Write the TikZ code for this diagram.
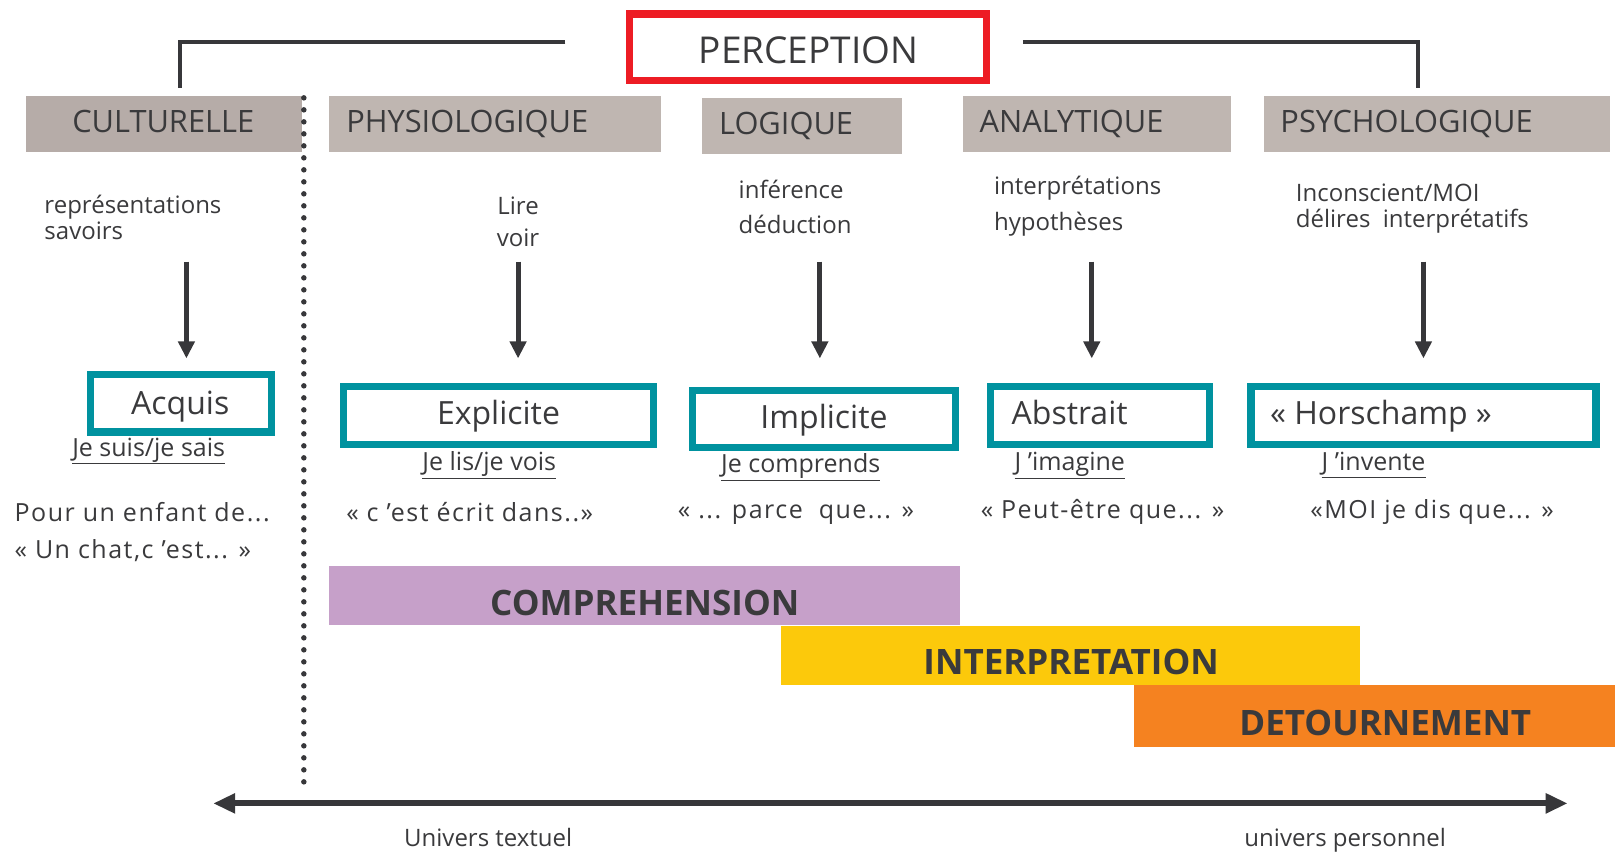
\documentclass[tikz,border=0pt]{standalone}
\usepackage{fontspec}
\setmainfont{Open Sans}
\usetikzlibrary{arrows.meta,fit}
\definecolor{txt}{RGB}{58,58,60}
\definecolor{linec}{RGB}{55,55,58}
\definecolor{redc}{RGB}{237,28,36}
\definecolor{tealc}{RGB}{0,146,159}
\definecolor{grayc}{RGB}{191,182,177}
\definecolor{grayd}{RGB}{182,172,168}
\definecolor{lavc}{RGB}{198,160,201}
\definecolor{yelc}{RGB}{252,201,11}
\definecolor{orac}{RGB}{245,130,32}
\tikzset{
  redbox/.style={draw=redc,line width=7.2pt,inner sep=0pt},
  tealbox/.style={draw=tealc,line width=7.2pt,inner sep=0pt},
  graybox/.style={fill=grayc,inner sep=0pt},
  bar/.style={inner sep=0pt},
  bracket/.style={draw=linec,line width=3.8pt},
  downarrow/.style={draw=linec,line width=5pt,-{Triangle[width=16pt,length=17pt]}},
  axis/.style={draw=linec,line width=6pt,{Triangle[width=19pt,length=22pt]}-{Triangle[width=19pt,length=22pt]}},
  sep/.style={draw=linec,line width=5.5pt,line cap=round,dash pattern=on 0pt off 12pt},
  glabel/.style={font=\fontsize{30.8pt}{36pt}\selectfont,anchor=base west},
  tlabel/.style={font=\fontsize{32pt}{38pt}\selectfont,anchor=base},
  desc/.style={font=\fontsize{24pt}{28pt}\selectfont,anchor=base west},
  uline/.style={font=\fontsize{25pt}{28pt}\selectfont,anchor=base west},
  quote/.style={font=\fontsize{25pt}{29pt}\selectfont\addfontfeatures{LetterSpace=6}},
  barlabel/.style={font=\fontsize{35pt}{40pt}\selectfont\bfseries,anchor=base},
  axlabel/.style={font=\fontsize{24pt}{28pt}\selectfont,anchor=base},
}
\begin{document}
\begin{tikzpicture}[x=1.03pt,y=-1.03pt,every node/.style={text=txt,inner sep=0pt}]
\useasboundingbox (0,0) rectangle (1568,828);
% top
\node[redbox,fit={(611.5,13.5)(957.5,78.5)}] (perc) {};
\node[font=\fontsize{37pt}{44pt}\selectfont,anchor=base] (perct) at (785,62) {PERCEPTION};
\coordinate (bl1) at (549,41);
\coordinate (bl2) at (175,41);
\coordinate (bl3) at (175,85);
\coordinate (br1) at (993,41);
\coordinate (br2) at (1377,41);
\coordinate (br3) at (1377,85);
\draw[bracket] (bl1) -- (bl2) -- (bl3);
\draw[bracket] (br1) -- (br2) -- (br3);
% gray boxes
\node[graybox,fill=grayd,fit={(25,93)(293,148)}] (cult) {};
\node[graybox,fit={(319,93)(642,148)}] (phys) {};
\node[graybox,fit={(682,95)(876,150)}] (logi) {};
\node[graybox,fit={(935,93)(1195,148)}] (anal) {};
\node[graybox,fit={(1227,93)(1563,148)}] (psyc) {};
\node[glabel] (cultt) at (70,129) {CULTURELLE};
\node[glabel] (physt) at (336,129) {PHYSIOLOGIQUE};
\node[glabel] (logit) at (698,131) {LOGIQUE};
\node[glabel] (analt) at (951,129) {ANALYTIQUE};
\node[glabel] (psyct) at (1243,129) {PSYCHOLOGIQUE};
% separator
\coordinate (s1) at (295,95);
\coordinate (s2) at (295,768);
\draw[sep] (s1) -- (s2);
% descriptions
\node[desc] (d1a) at (43,207) {représentations};
\node[desc] (d1b) at (43,233) {savoirs};
\node[desc,anchor=base] (d2a) at (503,208) {Lire};
\node[desc,anchor=base] (d2b) at (503,239) {voir};
\node[desc] (d3a) at (717,193) {inférence};
\node[desc] (d3b) at (717,227) {déduction};
\node[desc] (d4a) at (965,189) {interprétations};
\node[desc] (d4b) at (965,224) {hypothèses};
\node[desc] (d5a) at (1258,196) {Inconscient/MOI};
\node[desc] (d5b) at (1258,221) {délires\ \ interprétatifs};
% arrows
\foreach \i/\x in {1/181,2/503,3/796,4/1060,5/1382}{
  \coordinate (a\i s) at (\x,254);
  \coordinate (a\i e) at (\x,348);
  \draw[downarrow] (a\i s) -- (a\i e);
}
% teal boxes
\node[tealbox,fit={(87.5,363.5)(263.5,419.5)}] (acq) {};
\node[tealbox,fit={(333.5,375.5)(634.5,431.5)}] (exp) {};
\node[tealbox,fit={(672.5,379.5)(927.5,434.5)}] (imp) {};
\node[tealbox,fit={(961.5,375.5)(1174.5,431.5)}] (abs) {};
\node[tealbox,fit={(1214.5,375.5)(1549.5,431.5)}] (hor) {};
\node[tlabel] (acqt) at (175,402) {Acquis};
\node[tlabel] (expt) at (484,412) {Explicite};
\node[tlabel] (impt) at (800,416) {Implicite};
\node[tlabel,anchor=base west] (abst) at (982,412) {Abstrait};
\node[tlabel,anchor=base west] (hort) at (1233,412) {« Horschamp »};
% underlined
\node[uline] (u1) at (70,443) {\underline{Je suis/je sais}};
\node[uline] (u2) at (410,457) {\underline{Je lis/je vois}};
\node[uline] (u3) at (700,459) {\underline{Je comprends}};
\node[uline] (u4) at (985,457) {\underline{J ’imagine}};
\node[uline] (u5) at (1283,457) {\underline{J ’invente}};
% quotes
\node[quote,anchor=base west] (q1a) at (14,506) {Pour un enfant de...};
\node[quote,anchor=base west] (q1b) at (14,542) {« Un chat,c ’est... »};
\node[quote,anchor=base west] (q2) at (336,506) {« c ’est écrit dans..»};
\node[quote,anchor=base west] (q3) at (658,503) {« ... parce\ \ que... »};
\node[quote,anchor=base west] (q4) at (952,503) {« Peut-être que... »};
\node[quote,anchor=base west] (q5) at (1272,503) {«MOI je dis que... »};
% bars
\node[bar,fill=lavc,fit={(319,550)(932,607)}] (comp) {};
\node[bar,fill=yelc,fit={(758,608)(1320,665)}] (inte) {};
\node[bar,fill=orac,fit={(1101,665)(1568,725)}] (deto) {};
\node[barlabel] (compt) at (626,598) {COMPREHENSION};
\node[barlabel] (intet) at (1040,655) {INTERPRETATION};
\node[barlabel] (detot) at (1345,714) {DETOURNEMENT};
% axis
\coordinate (x1) at (207,780);
\coordinate (x2) at (1522,780);
\draw[axis] (x1) -- (x2);
\node[axlabel] (xl1) at (474,822) {Univers textuel};
\node[axlabel] (xl2) at (1306,822) {univers personnel};
\end{tikzpicture}
\end{document}
